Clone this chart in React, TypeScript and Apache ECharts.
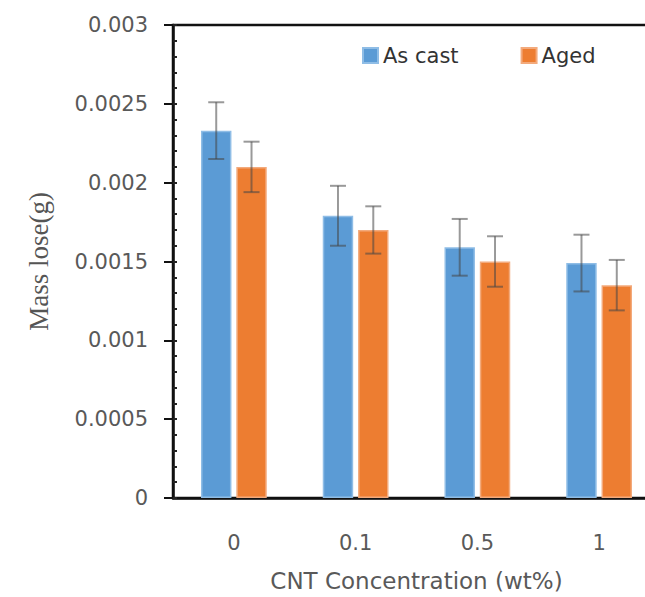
import React, { useEffect, useRef } from "react";
import * as echarts from "echarts";

const categories = ["0", "0.1", "0.5", "1"];
const asCast = [0.00233, 0.00179, 0.00159, 0.00149];
const aged = [0.0021, 0.0017, 0.0015, 0.00135];
const asCastErr = [0.00018, 0.00019, 0.00018, 0.00018];
const agedErr = [0.00016, 0.00015, 0.00016, 0.00016];
const seriesNames = ["As cast", "Aged"];

const BLUE = "#5B9BD5";
const ORANGE = "#ED7D31";

function errRender(sign: number) {
  return (params: any, api: any) => {
    const idx = api.value(0);
    const lo = api.value(1);
    const hi = api.value(2);
    const band = api.size([1, 0])[0];
    const off = sign * band * 0.145;
    const pLo = api.coord([idx, lo]);
    const pHi = api.coord([idx, hi]);
    const x = pLo[0] + off;
    const cap = 8;
    const style = { stroke: "rgba(70,70,70,0.55)", lineWidth: 2 };
    return {
      type: "group",
      children: [
        { type: "line", shape: { x1: x, y1: pLo[1], x2: x, y2: pHi[1] }, style },
        { type: "line", shape: { x1: x - cap, y1: pHi[1], x2: x + cap, y2: pHi[1] }, style },
        { type: "line", shape: { x1: x - cap, y1: pLo[1], x2: x + cap, y2: pLo[1] }, style },
      ],
    };
  };
}

export default function App() {
  const ref = useRef<HTMLDivElement>(null);
  useEffect(() => {
    if (!ref.current) return;
    const chart = echarts.init(ref.current, null, { renderer: "svg" });
    const font = "DejaVu Sans";
    chart.setOption({
      animation: false,
      grid: {
        left: 173,
        right: 0,
        top: 25,
        bottom: 97,
        show: true,
        borderColor: "#111",
        borderWidth: 2.5,
      },
      legend: {
        data: seriesNames,
        left: 357,
        top: 40,
        itemWidth: 15,
        itemHeight: 15,
        itemGap: 62,
        icon: "rect",
        textStyle: { fontFamily: font, fontSize: 21, color: "#333" },
      },
      xAxis: [
        {
          type: "category",
          data: categories,
          position: "bottom",
          axisLine: { lineStyle: { color: "#111", width: 2.5 } },
          axisTick: { alignWithLabel: true, length: 6, lineStyle: { color: "#777", width: 1.5 } },
          axisLabel: { fontFamily: font, fontSize: 21, color: "#595959", margin: 34 },
          name: "CNT Concentration (wt%)",
          nameLocation: "middle",
          nameGap: 71,
          nameTextStyle: { fontFamily: font, fontSize: 23, color: "#595959" },
        },
        {
          type: "category",
          data: categories,
          position: "bottom",
          axisLine: { show: false },
          axisTick: { inside: true, length: 4, lineStyle: { color: "#333", width: 2 } },
          axisLabel: { show: false },
          splitLine: { show: false },
        },
      ],
      yAxis: [
        {
          type: "value",
          min: 0,
          max: 0.003,
          interval: 0.0005,
          position: "left",
          axisLine: { show: true, lineStyle: { color: "#111", width: 2.5 } },
          axisTick: { show: true, length: 9, lineStyle: { color: "#111", width: 2 } },
          axisLabel: {
            fontFamily: font,
            fontSize: 21,
            color: "#595959",
            margin: 25,
            formatter: (v: number) => (v === 0 ? "0" : String(Number(v.toFixed(5)))),
          },
          splitLine: { show: false },
          name: "Mass lose(g)",
          nameLocation: "middle",
          nameGap: 121,
          nameRotate: 90,
          nameTextStyle: { fontFamily: "Liberation Serif", fontSize: 27, color: "#555" },
        },
        {
          type: "value",
          min: 0,
          max: 0.003,
          interval: 0.0001,
          position: "left",
          axisLine: { show: false },
          axisTick: { show: true, inside: true, length: 4, lineStyle: { color: "#222", width: 2 } },
          axisLabel: { show: false },
          splitLine: { show: false },
        },
      ],
      series: [
        {
          name: seriesNames[0],
          type: "bar",
          data: asCast,
          barWidth: "25%",
          barGap: "16%",
          itemStyle: { color: BLUE, borderColor: "#8fbde6", borderWidth: 1.5 },
        },
        {
          name: seriesNames[1],
          type: "bar",
          data: aged,
          barWidth: "25%",
          barGap: "16%",
          itemStyle: { color: ORANGE, borderColor: "#f3aa7c", borderWidth: 1.5 },
        },
        {
          type: "custom",
          renderItem: errRender(-1),
          data: asCast.map((v, i) => [i, v - asCastErr[i], v + asCastErr[i]]),
          z: 10,
          silent: true,
        },
        {
          type: "custom",
          renderItem: errRender(1),
          data: aged.map((v, i) => [i, v - agedErr[i], v + agedErr[i]]),
          z: 10,
          silent: true,
        },
      ],
    });
    return () => chart.dispose();
  }, []);
  return (
    <div style={{ position: "fixed", left: 0, top: 0, width: 645, height: 597, overflow: "hidden", background: "#fff" }}>
      <div ref={ref} style={{ width: 660, height: 597 }} />
    </div>
  );
}
